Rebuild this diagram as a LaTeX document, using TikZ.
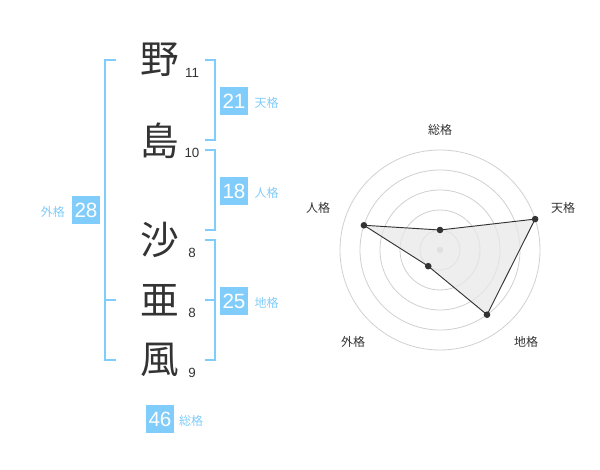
\documentclass[tikz,border=0pt]{standalone}
\usepackage{fontspec}
\setmainfont{Liberation Sans}
\newfontfamily\jpfont{Noto Sans CJK JP}
\usetikzlibrary{positioning}
\definecolor{kakublue}{RGB}{128,204,250}
\definecolor{inkgray}{RGB}{51,51,51}
\definecolor{ringgray}{RGB}{208,208,208}
\definecolor{areagray}{RGB}{232,232,232}

\begin{document}
\begin{tikzpicture}[
    x=0.75pt, y=-0.75pt,
    node distance = 4.5pt,
    kanji/.style   = {font=\jpfont\fontsize{29}{29}\selectfont, text=inkgray, inner sep=0pt},
    strokes/.style = {font=\fontsize{10}{10}\selectfont, text=inkgray, inner sep=0pt},
    valbox/.style  = {fill=kakublue, text=white, minimum size=21pt, inner sep=0pt,
                      font=\fontsize{15.5}{15.5}\selectfont},
    kaku/.style    = {font=\jpfont\fontsize{9}{9}\selectfont, text=kakublue,
                      inner sep=0pt, yshift=-1.5pt},
    brk/.style     = {draw=kakublue, line width=1.5pt},
    ring/.style    = {draw=ringgray, line width=0.6pt},
    axislbl/.style = {font=\jpfont\fontsize{9}{9}\selectfont, text=inkgray, inner sep=0pt},
]
\useasboundingbox (0,0) rectangle (600,470);

%% ── Name column ─────────────────────────────────────────────────────────────
\node[kanji] (no)    at (160,60)  {野};
\node[kanji] (shima) at (160,141) {島};
\node[kanji] (sa)    at (160,240) {沙};
\node[kanji] (a)     at (160,300) {亜};
\node[kanji] (kaze)  at (160,360) {風};

%% ── Stroke counts ───────────────────────────────────────────────────────────
\node[strokes] (nNo)    at (192,73)  {11};
\node[strokes] (nShima) at (192,153) {10};
\node[strokes] (nSa)    at (192,253) {8};
\node[strokes] (nA)     at (192,313) {8};
\node[strokes] (nKaze)  at (192,373) {9};

%% ── Brackets ────────────────────────────────────────────────────────────────
\draw[brk] (205,60)  -- (215,60)  -- (215,140) -- (205,140);
\draw[brk] (205,150) -- (215,150) -- (215,230) -- (205,230);
\draw[brk] (205,240) -- (215,240) -- (215,360) -- (205,360);
\draw[brk] (205,300) -- (215,300);
\draw[brk] (116,60)  -- (105,60)  -- (105,360) -- (116,360);
\draw[brk] (105,300) -- (116,300);

%% ── Values ──────────────────────────────────────────────────────────────────
\node[valbox] (ten)   at (234,101) {21};
\node[kaku, right=of ten]   (tenL)  {天格};
\node[valbox] (jin)   at (234,191) {18};
\node[kaku, right=of jin]   (jinL)  {人格};
\node[valbox] (chi)   at (234,301) {25};
\node[kaku, right=of chi]   (chiL)  {地格};
\node[valbox] (gai)   at (86,210)  {28};
\node[kaku, left=5pt of gai] (gaiL) {外格};
\node[valbox] (sou)   at (160,419) {46};
\node[kaku, right=3.5pt of sou] (souL) {総格};

%% ── Radar chart ─────────────────────────────────────────────────────────────
\begin{scope}[shift={(440,250)}, yscale=-1]
  \foreach \r in {20,40,60,80,100}
    \draw[ring] (0,0) circle[radius=\r];
  \fill[ringgray] (0,0) circle[radius=3.3];
  \coordinate (pSou) at (90:20);
  \coordinate (pTen) at (18:100);
  \coordinate (pChi) at (-54:80);
  \coordinate (pGai) at (-126:20);
  \coordinate (pJin) at (162:80);
  \draw[fill=areagray, fill opacity=0.75, draw=inkgray, line width=0.7pt]
    (pSou) -- (pTen) -- (pChi) -- (pGai) -- (pJin) -- cycle;
  \foreach \p in {pSou,pTen,pChi,pGai,pJin}
    \fill[inkgray] (\p) circle[radius=3.3];
\end{scope}

\node[axislbl] (aSou) at (440,130) {総格};
\node[axislbl] (aTen) at (563,208) {天格};
\node[axislbl] (aChi) at (526,342) {地格};
\node[axislbl] (aGai) at (353,342) {外格};
\node[axislbl] (aJin) at (318,208) {人格};

\end{tikzpicture}
\end{document}
